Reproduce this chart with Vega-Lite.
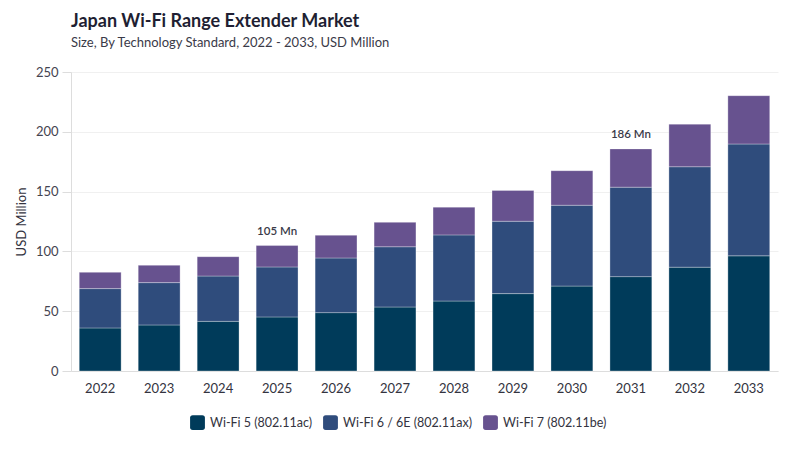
{
  "$schema": "https://vega.github.io/schema/vega-lite/v6.json",
  "width": 707,
  "height": 299,
  "autosize": {"type": "none"},
  "padding": {"left": 71, "top": 72, "right": 22, "bottom": 79},
  "background": "#ffffff",
  "config": {
    "font": "Lato",
    "view": {"stroke": null},
    "axis": {"labelFont": "Lato", "titleFont": "Lato"},
    "legend": {"labelFont": "Lato"}
  },
  "title": {
    "text": "Japan Wi-Fi Range Extender Market",
    "subtitle": "Size, By Technology Standard, 2022 - 2033, USD Million",
    "anchor": "start",
    "frame": "group",
    "font": "Lato",
    "subtitleFont": "Lato",
    "fontSize": 18,
    "fontWeight": "bold",
    "color": "#1f1f33",
    "subtitleFontSize": 13,
    "subtitleColor": "#3a3a48",
    "subtitlePadding": 6,
    "offset": 16
  },
  "datasets": {
    "market": [
      {"year": "2022", "tech": "Wi-Fi 5 (802.11ac)", "value": 36.0},
      {"year": "2022", "tech": "Wi-Fi 6 / 6E (802.11ax)", "value": 32.9},
      {"year": "2022", "tech": "Wi-Fi 7 (802.11be)", "value": 13.6},
      {"year": "2023", "tech": "Wi-Fi 5 (802.11ac)", "value": 38.5},
      {"year": "2023", "tech": "Wi-Fi 6 / 6E (802.11ax)", "value": 35.4},
      {"year": "2023", "tech": "Wi-Fi 7 (802.11be)", "value": 14.5},
      {"year": "2024", "tech": "Wi-Fi 5 (802.11ac)", "value": 41.5},
      {"year": "2024", "tech": "Wi-Fi 6 / 6E (802.11ax)", "value": 37.9},
      {"year": "2024", "tech": "Wi-Fi 7 (802.11be)", "value": 16.2},
      {"year": "2025", "tech": "Wi-Fi 5 (802.11ac)", "value": 45.2},
      {"year": "2025", "tech": "Wi-Fi 6 / 6E (802.11ax)", "value": 41.8},
      {"year": "2025", "tech": "Wi-Fi 7 (802.11be)", "value": 17.9},
      {"year": "2026", "tech": "Wi-Fi 5 (802.11ac)", "value": 48.8},
      {"year": "2026", "tech": "Wi-Fi 6 / 6E (802.11ax)", "value": 45.7},
      {"year": "2026", "tech": "Wi-Fi 7 (802.11be)", "value": 19.0},
      {"year": "2027", "tech": "Wi-Fi 5 (802.11ac)", "value": 53.5},
      {"year": "2027", "tech": "Wi-Fi 6 / 6E (802.11ax)", "value": 50.4},
      {"year": "2027", "tech": "Wi-Fi 7 (802.11be)", "value": 20.4},
      {"year": "2028", "tech": "Wi-Fi 5 (802.11ac)", "value": 58.5},
      {"year": "2028", "tech": "Wi-Fi 6 / 6E (802.11ax)", "value": 55.3},
      {"year": "2028", "tech": "Wi-Fi 7 (802.11be)", "value": 23.2},
      {"year": "2029", "tech": "Wi-Fi 5 (802.11ac)", "value": 64.7},
      {"year": "2029", "tech": "Wi-Fi 6 / 6E (802.11ax)", "value": 60.5},
      {"year": "2029", "tech": "Wi-Fi 7 (802.11be)", "value": 25.8},
      {"year": "2030", "tech": "Wi-Fi 5 (802.11ac)", "value": 71.0},
      {"year": "2030", "tech": "Wi-Fi 6 / 6E (802.11ax)", "value": 67.6},
      {"year": "2030", "tech": "Wi-Fi 7 (802.11be)", "value": 28.9},
      {"year": "2031", "tech": "Wi-Fi 5 (802.11ac)", "value": 78.9},
      {"year": "2031", "tech": "Wi-Fi 6 / 6E (802.11ax)", "value": 74.8},
      {"year": "2031", "tech": "Wi-Fi 7 (802.11be)", "value": 32.0},
      {"year": "2032", "tech": "Wi-Fi 5 (802.11ac)", "value": 86.8},
      {"year": "2032", "tech": "Wi-Fi 6 / 6E (802.11ax)", "value": 84.0},
      {"year": "2032", "tech": "Wi-Fi 7 (802.11be)", "value": 35.6},
      {"year": "2033", "tech": "Wi-Fi 5 (802.11ac)", "value": 96.3},
      {"year": "2033", "tech": "Wi-Fi 6 / 6E (802.11ax)", "value": 93.5},
      {"year": "2033", "tech": "Wi-Fi 7 (802.11be)", "value": 40.4}
    ],
    "notes": [
      {"year": "2025", "total": 104.9, "label": "105 Mn"},
      {"year": "2031", "total": 185.7, "label": "186 Mn"}
    ]
  },
  "layer": [
    {
      "data": {"name": "market"},
      "mark": {"type": "bar", "stroke": "#ffffff", "strokeWidth": 0.6, "strokeOpacity": 0.5},
      "encoding": {
        "x": {
          "field": "year",
          "type": "ordinal",
          "scale": {"paddingInner": 0.29, "paddingOuter": 0.14},
          "axis": {
            "title": null,
            "labelAngle": 0,
            "labelFontSize": 13,
            "labelColor": "#333340",
            "labelPadding": 11,
            "ticks": false,
            "domainColor": "#dddddd",
            "domainWidth": 1
          }
        },
        "y": {
          "field": "value",
          "type": "quantitative",
          "aggregate": "sum",
          "stack": "zero",
          "scale": {"domain": [0, 250], "nice": false},
          "axis": {
            "title": "USD Million",
            "titleFontSize": 13,
            "titleFontWeight": "normal",
            "titleColor": "#333340",
            "titlePadding": 7,
            "values": [0, 50, 100, 150, 200, 250],
            "labelFontSize": 13,
            "labelColor": "#444450",
            "labelPadding": 4,
            "tickColor": "#dddddd",
            "tickSize": 9,
            "domainColor": "#dddddd",
            "gridColor": "#f0f0f0"
          }
        },
        "color": {
          "field": "tech",
          "type": "nominal",
          "scale": {
            "domain": ["Wi-Fi 5 (802.11ac)", "Wi-Fi 6 / 6E (802.11ax)", "Wi-Fi 7 (802.11be)"],
            "range": ["#003b5a", "#2f4c7c", "#67528f"]
          },
          "legend": {
            "title": null,
            "orient": "none",
            "legendX": 119,
            "legendY": 343,
            "direction": "horizontal",
            "labelFontSize": 12.5,
            "labelColor": "#333340",
            "symbolType": "M -0.65 -1 H 0.65 Q 1 -1 1 -0.65 V 0.65 Q 1 1 0.65 1 H -0.65 Q -1 1 -1 0.65 V -0.65 Q -1 -1 -0.65 -1 Z",
            "symbolSize": 220,
            "symbolStrokeWidth": 0,
            "symbolOpacity": 1,
            "columnPadding": 10,
            "labelOffset": 5
          }
        },
        "order": {"field": "tech", "sort": "ascending"}
      }
    },
    {
      "data": {"name": "notes"},
      "mark": {"type": "text", "dy": -14, "fontSize": 11.5, "fontWeight": 600, "color": "#3a3a48"},
      "encoding": {
        "x": {"field": "year", "type": "ordinal"},
        "y": {"field": "total", "type": "quantitative"},
        "text": {"field": "label", "type": "nominal"}
      }
    }
  ]
}
